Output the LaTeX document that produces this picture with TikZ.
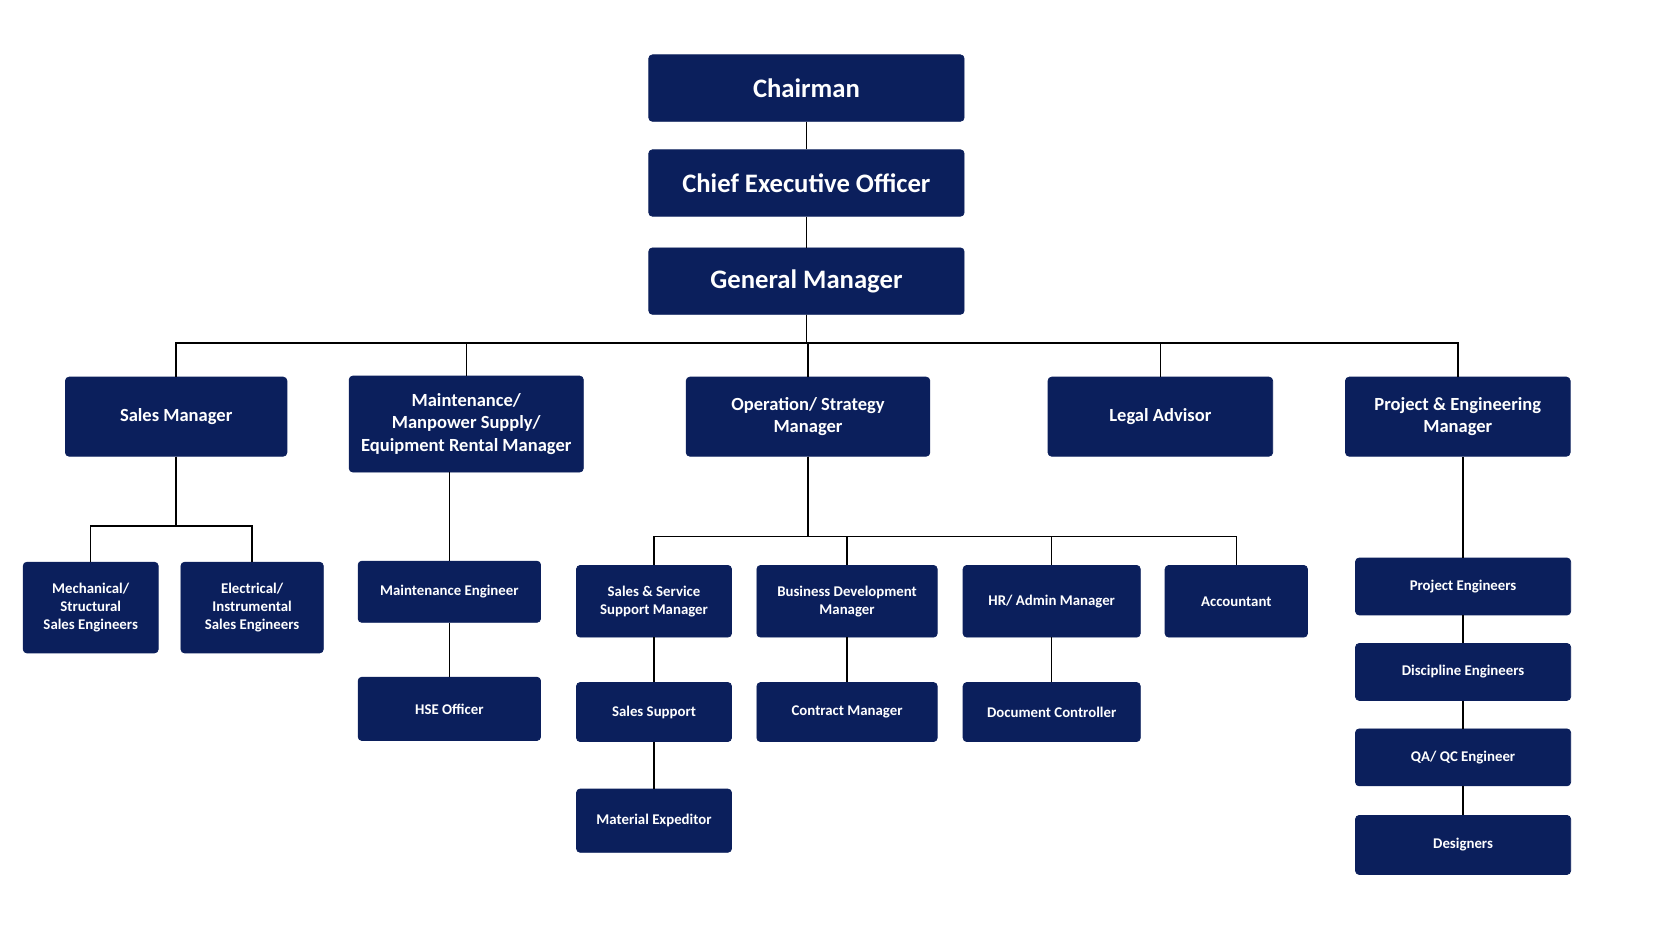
\documentclass[tikz,border=0pt]{standalone}
\usepackage{fontspec}
\setmainfont{Carlito}
\usetikzlibrary{positioning}
\definecolor{orgnavy}{HTML}{0B1F5C}

\begin{document}
\begin{tikzpicture}[
        x=0.02cm, y=-0.02cm,
        org_box/.style={
            draw=orgnavy, fill=orgnavy, rectangle, rounded corners=2pt, inner sep=2pt,
            align=center, text=white, font=\bfseries\footnotesize
        },
        top_box/.style={org_box, minimum width=5.98cm, minimum height=1.26cm, font=\bfseries\Large},
        mid_box/.style={org_box, minimum height=1.5cm, font=\bfseries\normalsize},
        low_box/.style={org_box, minimum height=1.2cm},
        link/.style={draw=black, line width=0.8pt}
    ]
    \useasboundingbox[fill=white] (0,0) rectangle (1568,902);

    % Top of the chart
    \node[top_box] (chair) at (764.5,83.5) {Chairman};
    \node[top_box] (ceo) at (764.5,173.5) {Chief Executive Officer};
    \node[top_box] (gm) at (764.5,266.5) {General Manager};

    % Managers
    \node[mid_box, minimum width=4.2cm] (sales) at (167,395) {Sales Manager};
    \node[mid_box, minimum width=4.44cm, minimum height=1.82cm] (maint) at (442,402) {Maintenance/\\Manpower Supply/\\Equipment Rental Manager};
    \node[mid_box, minimum width=4.62cm] (ops) at (766,395) {Operation/ Strategy\\Manager};
    \node[mid_box, minimum width=4.26cm] (legal) at (1100,395) {Legal Advisor};
    \node[mid_box, minimum width=4.26cm] (proj) at (1382,395) {Project \& Engineering\\Manager};

    % Sales staff
    \node[low_box, minimum width=2.56cm, minimum height=1.72cm] (mech) at (86,576) {Mechanical/\\Structural\\Sales Engineers};
    \node[low_box, minimum width=2.7cm, minimum height=1.72cm] (elec) at (239,576) {Electrical/\\Instrumental\\Sales Engineers};

    % Maintenance staff
    \node[low_box, minimum width=3.46cm, minimum height=1.16cm] (maintEng) at (426,561) {Maintenance Engineer};
    \node[low_box, minimum width=3.46cm] (hse) at (426,672) {HSE Officer};

    % Operation staff
    \node[low_box, minimum width=2.94cm, minimum height=1.36cm] (sss) at (620,570) {Sales \& Service\\Support Manager};
    \node[low_box, minimum width=3.42cm, minimum height=1.36cm] (bizdev) at (803,570) {Business Development\\Manager};
    \node[low_box, minimum width=3.36cm, minimum height=1.36cm] (hr) at (997,570) {HR/ Admin Manager};
    \node[low_box, minimum width=2.7cm, minimum height=1.36cm] (acct) at (1172,570) {Accountant};
    \node[low_box, minimum width=2.94cm, minimum height=1.12cm] (ssup) at (620,675) {Sales Support};
    \node[low_box, minimum width=3.42cm, minimum height=1.12cm] (contract) at (803,675) {Contract Manager};
    \node[low_box, minimum width=3.36cm, minimum height=1.12cm] (docctl) at (997,675) {Document Controller};
    \node[low_box, minimum width=2.94cm] (matexp) at (620,778) {Material Expeditor};

    % Project staff
    \node[low_box, minimum width=4.08cm, minimum height=1.08cm] (pe1) at (1387,556) {Project Engineers};
    \node[low_box, minimum width=4.08cm, minimum height=1.08cm] (pe2) at (1387,637) {Discipline Engineers};
    \node[low_box, minimum width=4.08cm, minimum height=1.08cm] (pe3) at (1387,718) {QA/ QC Engineer};
    \node[low_box, minimum width=4.08cm, minimum height=1.12cm] (pe4) at (1387,801) {Designers};

    % Connectors
    \draw[link] (chair) -- (ceo);
    \draw[link] (ceo) -- (gm);
    \foreach \m in {sales, maint, ops, legal, proj}
        \draw[link] (gm.south) -- ++(0,27) -| (\m.north);
    \foreach \m in {mech, elec}
        \draw[link] (sales.south) -- ++(0,66) -| (\m.north);
    \draw[link] (maintEng.north |- maint.south) -- (maintEng.north);
    \draw[link] (maintEng) -- (hse);
    \foreach \m in {sss, bizdev, hr, acct}
        \draw[link] (ops.south) -- ++(0,76) -| (\m.north);
    \draw[link] (sss) -- (ssup);
    \draw[link] (ssup) -- (matexp);
    \draw[link] (bizdev) -- (contract);
    \draw[link] (hr) -- (docctl);
    \draw[link] (pe1.north |- proj.south) -- (pe1.north);
    \draw[link] (pe1) -- (pe2);
    \draw[link] (pe2) -- (pe3);
    \draw[link] (pe3) -- (pe4);

\end{tikzpicture}
\end{document}
